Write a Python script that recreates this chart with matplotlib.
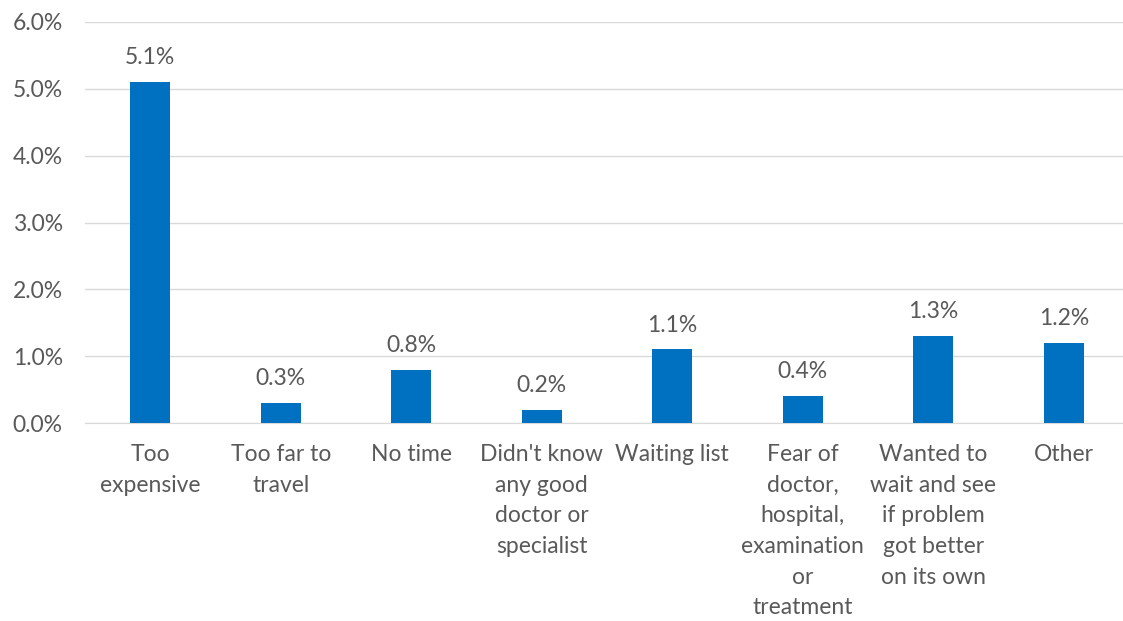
import matplotlib
matplotlib.use("Agg")
import matplotlib.pyplot as plt
from matplotlib.ticker import FuncFormatter

categories = [
    "Too\nexpensive",
    "Too far to\ntravel",
    "No time",
    "Didn't know\nany good\ndoctor or\nspecialist",
    "Waiting list",
    "Fear of\ndoctor,\nhospital,\nexamination\nor\ntreatment",
    "Wanted to\nwait and see\nif problem\ngot better\non its own",
    "Other",
]
values = [5.1, 0.3, 0.8, 0.2, 1.1, 0.4, 1.3, 1.2]

BAR = "#0070C0"
TEXT = "#595959"
GRID = "#D9D9D9"
FS = 16.5

plt.rcParams["font.family"] = ["Lato", "DejaVu Sans"]

fig = plt.figure(figsize=(11.23, 6.21), dpi=100)
ax = fig.add_axes([85 / 1123, 198 / 621, 1044 / 1123, 401 / 621])

x = range(len(categories))
ax.bar(x, values, width=0.31, color=BAR, zorder=3)
for i, v in zip(x, values):
    ax.annotate("{:.1f}%".format(v), (i, v), xytext=(0, 10),
                textcoords="offset points", ha="center", va="bottom",
                fontsize=FS, color=TEXT)

ax.set_xlim(-0.5, len(categories) - 0.5)
ax.set_ylim(0, 6)
ax.set_yticks([0, 1, 2, 3, 4, 5, 6])
ax.yaxis.set_major_formatter(FuncFormatter(lambda v, _: "{:.1f}%".format(v)))
ax.grid(axis="y", color=GRID, linewidth=1, zorder=0)
ax.set_xticks(list(x))
ax.set_xticklabels(categories, linespacing=1.57, va="top")
ax.tick_params(axis="both", length=0, labelsize=FS, colors=TEXT)
ax.tick_params(axis="x", pad=15)
ax.tick_params(axis="y", pad=16)
for s in ["top", "right", "left"]:
    ax.spines[s].set_visible(False)
ax.spines["bottom"].set_color(GRID)

fig.savefig("out.png", dpi=100)
